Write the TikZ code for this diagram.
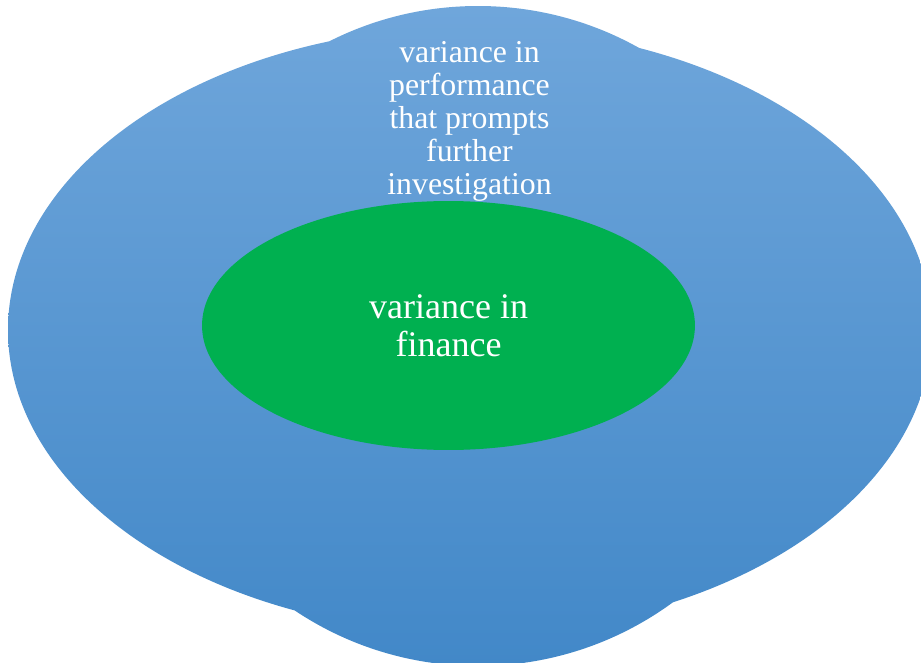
\documentclass[tikz,border=0pt]{standalone}
\usepackage{fontspec}
\setmainfont{Liberation Serif}
\usetikzlibrary{shapes.geometric,positioning}
\definecolor{blueTop}{HTML}{6FA6DB}
\definecolor{blueBottom}{HTML}{4288C8}
\definecolor{greenFill}{HTML}{00B050}

\begin{document}
\begin{tikzpicture}[x=0.02cm,y=-0.02cm,
    inner/.style={ellipse,fill=greenFill,text=white,inner sep=0pt,
        minimum width=9.86cm,minimum height=4.98cm,align=center,
        font=\fontsize{20.5}{21.5}\selectfont},
    outer label/.style={text=white,inner sep=0pt,align=center,
        font=\fontsize{18.1}{18.7}\selectfont}]
    \useasboundingbox (0,0) rectangle (921,663);
    \clip (0,0) rectangle (921,663);
    % blue shape: wide ellipse plus a round bump top and bottom
    \shade[top color=blueTop,bottom color=blueBottom]
        (470,330) ellipse [x radius=462,y radius=303]
        (478,336) circle [radius=330];
    \node[outer label] (perf) at (469.5,121.5)
        {variance in\\performance\\that prompts\\further\\investigation};
    \node[inner] (fin) at (448.5,325.5) {variance in\\finance};
\end{tikzpicture}
\end{document}
